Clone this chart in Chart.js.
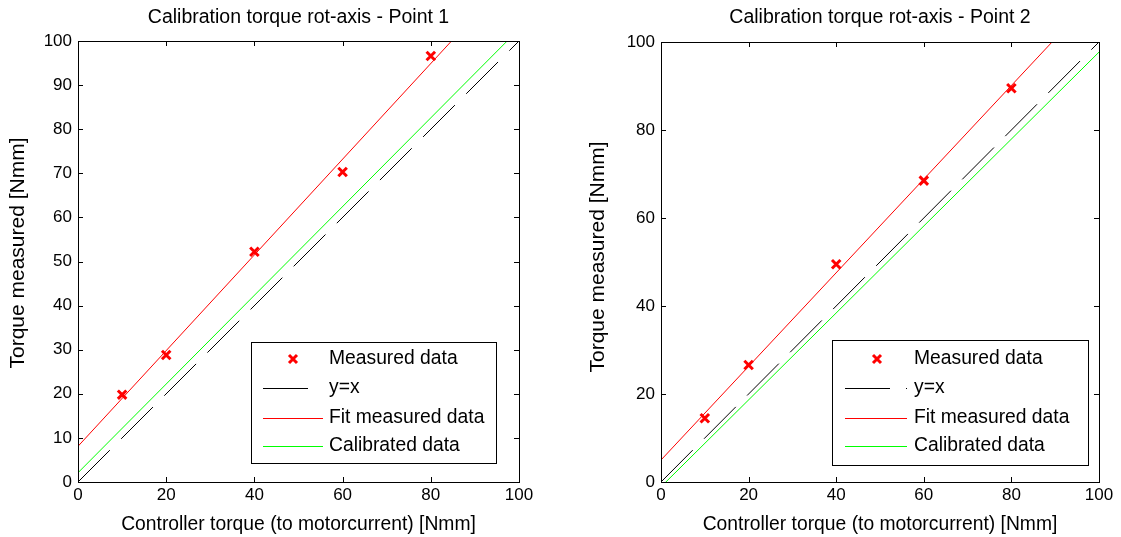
<!DOCTYPE html>
<html>
<head>
<meta charset="utf-8">
<script src="https://cdn.jsdelivr.net/npm/chart.js@4.4.1/dist/chart.umd.min.js"></script>
<style>
  html, body { margin: 0; padding: 0; background: #fff; overflow: hidden; }
  #wrap { position: relative; width: 1121px; height: 537px; }
  #c1 { position: absolute; left: 0; top: 0; }
  #c2 { position: absolute; left: 560px; top: 0; }
</style>
</head>
<body>
<div id="wrap">
  <canvas id="c1" width="560" height="537"></canvas>
  <canvas id="c2" width="561" height="537"></canvas>
</div>
<script>
// ---- data ----
const controllerTorque = [10, 20, 40, 60, 80];
const measured1 = [19.8, 28.8, 52.2, 70.3, 96.6];
const measured2 = [14.5, 26.6, 49.5, 68.5, 89.5];
const lineX = [0, 100];
const identity = [0, 100];
const fit1 = [8.1, 116.6];
const calibrated1 = [2.1, 102.7];
const fit2 = [5.0, 111.4];
const calibrated2 = [-1.1, 97.7];
const xTicks = [0, 20, 40, 60, 80, 100];
const yTicks1 = [0, 10, 20, 30, 40, 50, 60, 70, 80, 90, 100];
const yTicks2 = [0, 20, 40, 60, 80, 100];
const titles = ['Calibration torque rot-axis - Point 1', 'Calibration torque rot-axis - Point 2'];
const seriesLabels = ['Measured data', 'y=x', 'Fit measured data', 'Calibrated data'];
const xLabel = 'Controller torque (to motorcurrent) [Nmm]';
const yLabel = 'Torque measured [Nmm]';

const FONT = "'Liberation Sans', Arial, Helvetica, sans-serif";

function pts(xs, ys) { return xs.map((x, i) => ({ x: x, y: ys[i] })); }

// box + inward tick marks on all four sides
const framePlugin = {
  id: 'frame',
  afterDatasetsDraw(chart) {
    const { ctx, chartArea: a, scales: { x, y } } = chart;
    const L = 5;
    ctx.save();
    ctx.strokeStyle = '#000';
    ctx.lineWidth = 1;
    ctx.beginPath();
    x.ticks.forEach(t => {
      const px = Math.round(x.getPixelForValue(t.value)) + 0.5;
      ctx.moveTo(px, a.bottom); ctx.lineTo(px, a.bottom - L);
      ctx.moveTo(px, a.top); ctx.lineTo(px, a.top + L);
    });
    y.ticks.forEach(t => {
      const py = Math.round(y.getPixelForValue(t.value)) + 0.5;
      ctx.moveTo(a.left, py); ctx.lineTo(a.left + L, py);
      ctx.moveTo(a.right, py); ctx.lineTo(a.right - L, py);
    });
    ctx.stroke();
    ctx.strokeRect(Math.round(a.left) + 0.5, Math.round(a.top) + 0.5,
                   Math.round(a.right - a.left), Math.round(a.bottom - a.top));
    ctx.restore();
  }
};

// rotated y-axis label placed like the reference
const yTitlePlugin = {
  id: 'yTitle',
  afterDraw(chart, args, o) {
    const { ctx } = chart;
    ctx.save();
    ctx.translate(o.x, o.y);
    ctx.rotate(-Math.PI / 2);
    ctx.font = o.size + 'px ' + FONT;
    ctx.fillStyle = '#000';
    ctx.textAlign = 'center';
    ctx.textBaseline = 'middle';
    ctx.fillText(o.text, 0, 0);
    ctx.restore();
  }
};

// legend box drawn inside the axes (lower right), from dataset styles
const boxLegendPlugin = {
  id: 'boxLegend',
  afterDraw(chart, args, o) {
    const { ctx } = chart;
    ctx.save();
    ctx.fillStyle = '#fff';
    ctx.fillRect(o.x, o.y, o.w, o.h);
    ctx.strokeStyle = '#000';
    ctx.lineWidth = 1;
    ctx.strokeRect(o.x + 0.5, o.y + 0.5, o.w, o.h);
    ctx.font = o.fontSize + 'px ' + FONT;
    ctx.textBaseline = 'middle';
    ctx.textAlign = 'left';
    chart.data.datasets.forEach((ds, i) => {
      const yy = o.y + o.rows[i];
      if (ds.showLine === false) {
        const cx = o.x + o.marker, r = 4;
        ctx.strokeStyle = ds.borderColor;
        ctx.lineWidth = 3;
        ctx.beginPath();
        ctx.moveTo(cx - r, yy - r); ctx.lineTo(cx + r, yy + r);
        ctx.moveTo(cx - r, yy + r); ctx.lineTo(cx + r, yy - r);
        ctx.stroke();
      } else {
        ctx.strokeStyle = ds.borderColor;
        ctx.lineWidth = 1;
        ctx.setLineDash(ds.borderDash || []);
        ctx.beginPath();
        ctx.moveTo(o.x + o.s0, Math.round(yy) + 0.5);
        ctx.lineTo(o.x + o.s1, Math.round(yy) + 0.5);
        ctx.stroke();
        ctx.setLineDash([]);
      }
      ctx.fillStyle = '#000';
      ctx.fillText(ds.label, o.x + o.text, yy);
    });
    ctx.restore();
  }
};

function makeChart(id, measured, fit, calib, yTicks, title, pad, legend, topArea, yTitlePos) {
  return new Chart(document.getElementById(id), {
    type: 'scatter',
    data: {
      datasets: [
        { label: seriesLabels[0], data: pts(controllerTorque, measured), showLine: false,
          pointStyle: 'crossRot', pointRadius: 6, pointHoverRadius: 6,
          borderColor: '#ff0000', backgroundColor: '#ff0000', borderWidth: 3, pointBorderWidth: 3, order: 4 },
        { label: seriesLabels[1], data: pts(lineX, identity), showLine: true,
          borderColor: '#000000', borderWidth: 1, borderDash: [45, 16], pointRadius: 0, order: 3 },
        { label: seriesLabels[2], data: pts(lineX, fit), showLine: true,
          borderColor: '#ff0000', borderWidth: 1, pointRadius: 0, order: 2 },
        { label: seriesLabels[3], data: pts(lineX, calib), showLine: true,
          borderColor: '#00ff00', borderWidth: 1, pointRadius: 0, order: 1 }
      ]
    },
    options: {
      responsive: false,
      animation: false,
      events: [],
      layout: { padding: { left: pad.left, right: pad.right, top: 0, bottom: 0 } },
      plugins: {
        legend: { display: false },
        tooltip: { enabled: false },
        title: {
          display: true, text: title, color: '#000', fullSize: false,
          font: { family: FONT, size: 19.5, weight: 'normal', lineHeight: 1.2 },
          padding: { top: 6.3, bottom: topArea - 6.3 - 23.4 }
        },
        boxLegend: legend,
        yTitle: { text: yLabel, size: 21, x: yTitlePos.x, y: yTitlePos.y }
      },
      scales: {
        x: {
          type: 'linear', min: 0, max: 100,
          afterFit(s) { s.height = 55; },
          afterBuildTicks(s) { s.ticks = xTicks.map(v => ({ value: v })); },
          grid: { display: false, drawTicks: false },
          border: { display: false },
          ticks: { color: '#000', padding: 3, maxRotation: 0, autoSkip: false,
                   font: { family: FONT, size: 17 } },
          title: { display: true, text: xLabel, color: '#000',
                   font: { family: FONT, size: 19.3, lineHeight: 1.2 },
                   padding: { top: 0, bottom: 0.6 } }
        },
        y: {
          type: 'linear', min: 0, max: 100,
          afterFit(s) { s.width = pad.yw; },
          afterBuildTicks(s) { s.ticks = yTicks.map(v => ({ value: v })); },
          grid: { display: false, drawTicks: false },
          border: { display: false },
          ticks: { color: '#000', padding: 6, autoSkip: false,
                   font: { family: FONT, size: 17 } },
          title: { display: false }
        }
      }
    },
    plugins: [framePlugin, yTitlePlugin, boxLegendPlugin]
  });
}

makeChart('c1', measured1, fit1, calibrated1, yTicks1, titles[0],
  { left: 0, right: 41, yw: 78 },
  { x: 251, y: 342, w: 245, h: 121, s0: 12, s1: 72, marker: 42, text: 78, rows: [17, 46, 76, 104], fontSize: 19.3 },
  41, { x: 18.5, y: 253 });
makeChart('c2', measured2, fit2, calibrated2, yTicks2, titles[1],
  { left: 20, right: 22, yw: 81 },
  { x: 272, y: 340, w: 256, h: 125, s0: 13, s1: 75, marker: 45, text: 82, rows: [19, 48, 78, 106], fontSize: 19.3 },
  42, { x: 38.5, y: 257 });
</script>
</body>
</html>
